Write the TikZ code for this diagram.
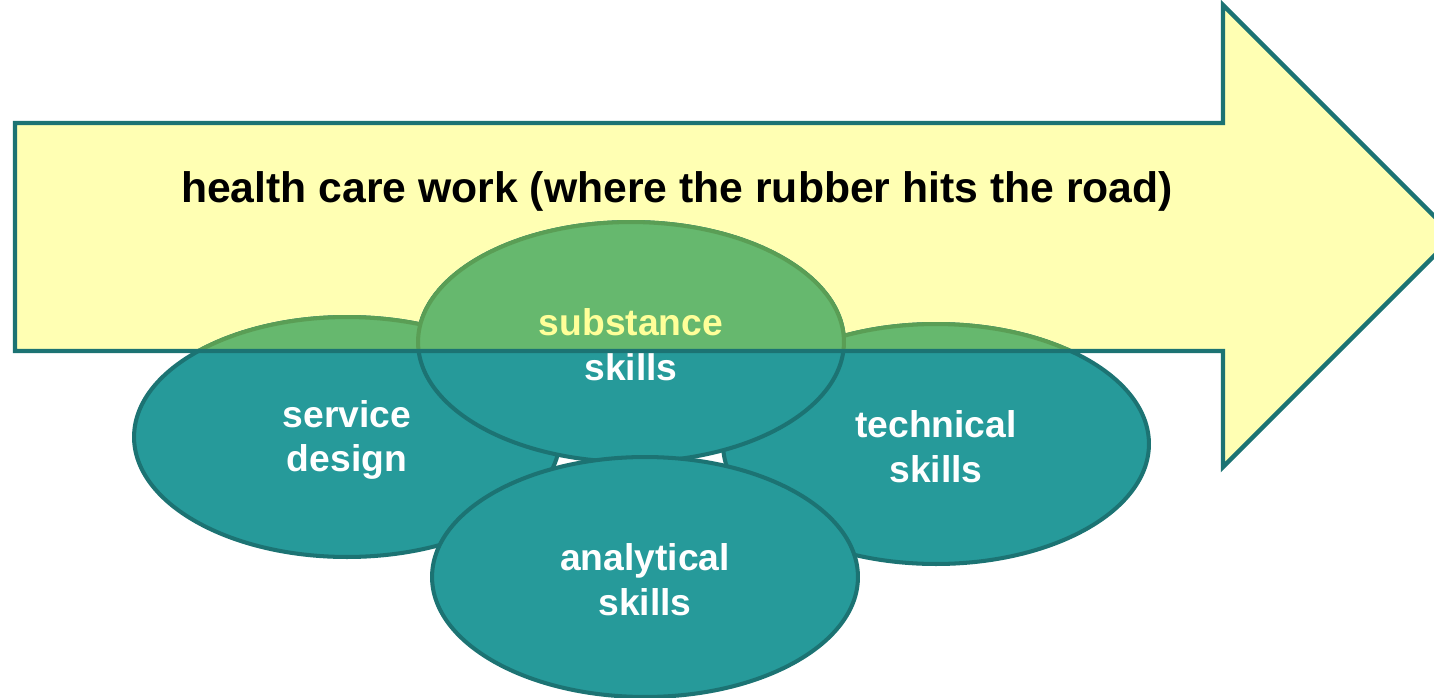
\documentclass[tikz,border=0pt]{standalone}
\usepackage{fontspec}
\setmainfont{Liberation Sans}
\usepackage{xcolor}
\definecolor{arrowyellow}{RGB}{255,255,179}
\definecolor{darkteal}{RGB}{28,115,115}
\definecolor{skillteal}{RGB}{38,154,154}
\definecolor{skillgreen}{RGB}{102,184,110}
\definecolor{greenline}{RGB}{90,158,85}
\definecolor{paleyellow}{RGB}{255,255,153}

\begin{document}
\begin{tikzpicture}[x=0.02cm, y=-0.02cm,
    % styles
    skillshape/.style={draw=darkteal, fill=skillteal, line width=2.3pt},
    inarrow/.style={draw=greenline, fill=skillgreen, line width=2.3pt},
    skilltext/.style={align=center, text=white, yshift=-0.06cm, font=\fontsize{21.2}{25.5}\selectfont\bfseries},
    arrowline/.style={draw=darkteal, line width=2.5pt, line join=miter},
    ]
    \clip (0,0) rectangle (1434,697);

    % centres of the ellipses
    \coordinate (serviceC)    at (347,437);
    \coordinate (technicalC)  at (936,444);
    \coordinate (substanceC)  at (631,342);
    \coordinate (analyticalC) at (645,577);

    % arrow fill
    \fill[arrowyellow] (15,123) -- (1223,123) -- (1223,5) -- (1454,236)
        -- (1223,467) -- (1223,351) -- (15,351) -- cycle;

    % ellipses
    \path[skillshape] (serviceC)    ellipse [x radius=4.26cm, y radius=2.4cm];
    \path[skillshape] (technicalC)  ellipse [x radius=4.26cm, y radius=2.4cm];
    \path[skillshape] (substanceC)  ellipse [x radius=4.26cm, y radius=2.4cm];
    \path[skillshape] (analyticalC) ellipse [x radius=4.26cm, y radius=2.4cm];

    % parts lying under the arrow
    \begin{scope}
        \clip (15,123) rectangle (1223,351);
        \path[inarrow] (serviceC)   ellipse [x radius=4.26cm, y radius=2.4cm];
        \path[inarrow] (technicalC) ellipse [x radius=4.26cm, y radius=2.4cm];
        \path[inarrow] (substanceC) ellipse [x radius=4.26cm, y radius=2.4cm];
    \end{scope}

    % labels
    \node[skilltext] (service)    at (serviceC)    {service\\design};
    \node[skilltext] (technical)  at (technicalC)  {technical\\skills};
    \node[skilltext] (substance)  at (substanceC)  {{\color{paleyellow}substance}\\skills};
    \node[skilltext] (analytical) at (analyticalC) {analytical\\skills};
    \node[font=\fontsize{24.3}{28}\selectfont\bfseries, anchor=base] (title) at (677,202)
        {health care work (where the rubber hits the road)};

    % arrow outline
    \path[arrowline] (15,123) -- (1223,123) -- (1223,5) -- (1454,236)
        -- (1223,467) -- (1223,351) -- (15,351) -- cycle;
\end{tikzpicture}
\end{document}
